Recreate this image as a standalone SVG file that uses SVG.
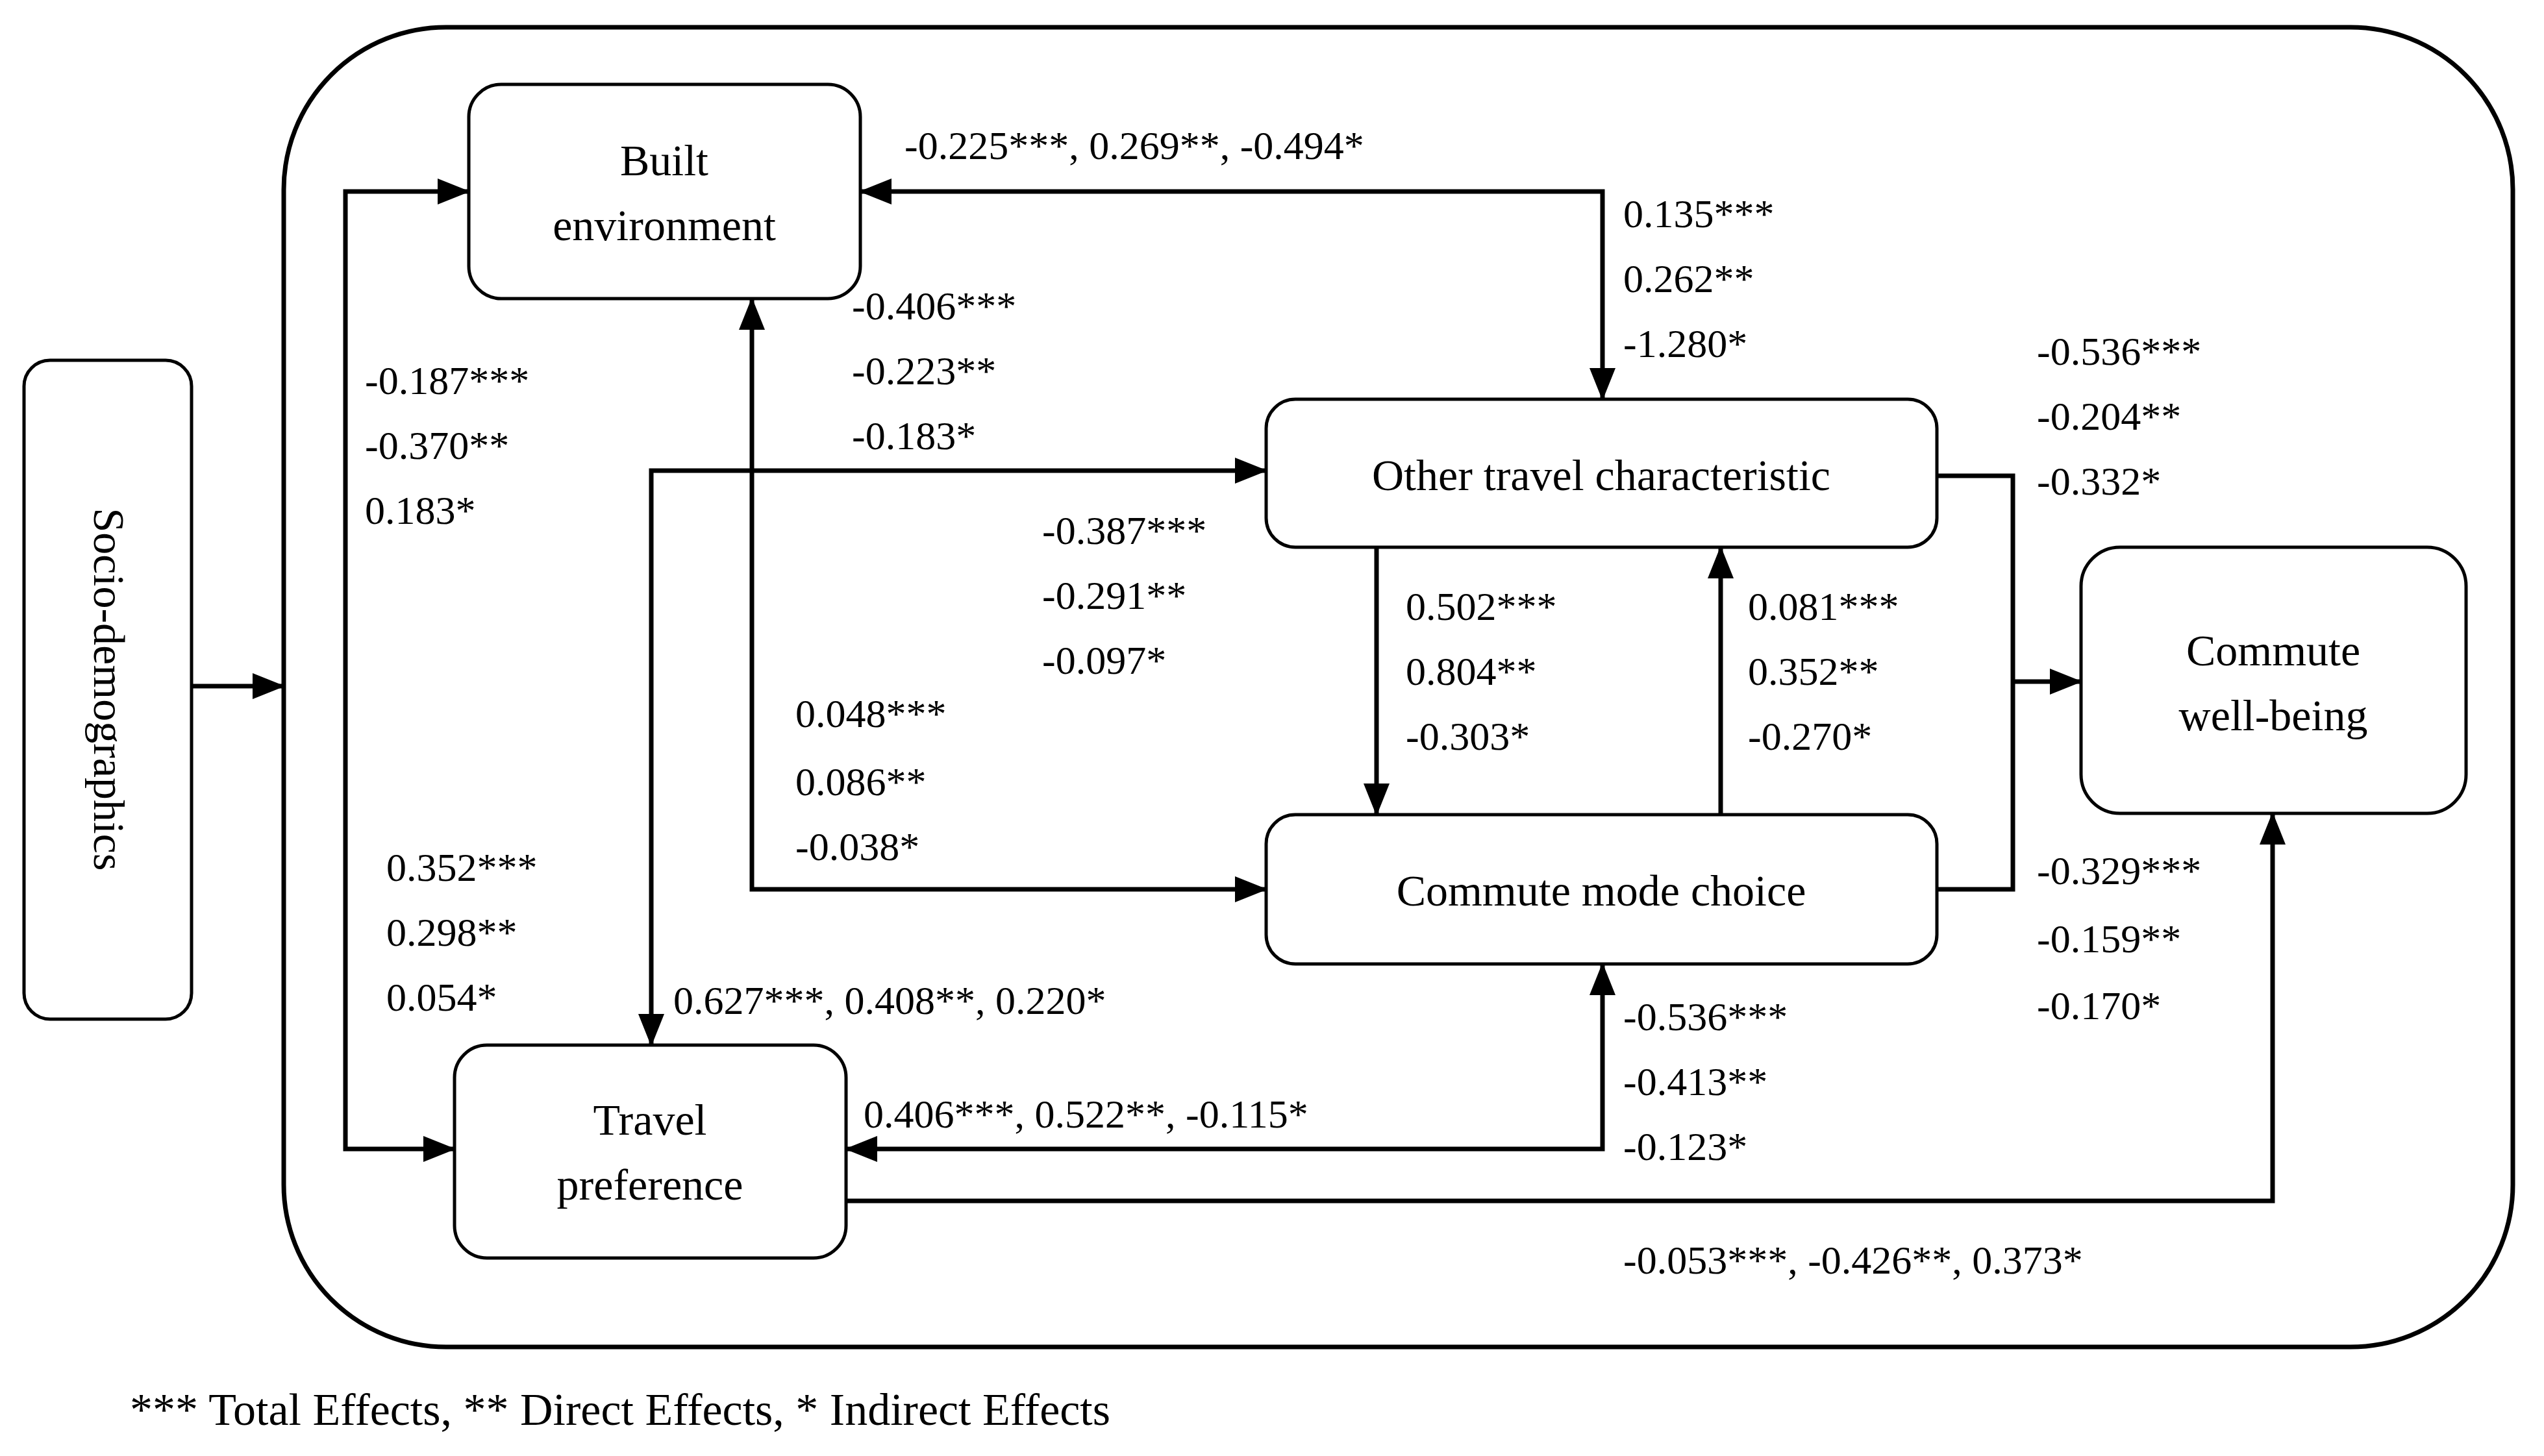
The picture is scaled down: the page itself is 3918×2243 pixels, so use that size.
<svg xmlns="http://www.w3.org/2000/svg" width="3918" height="2243" viewBox="0 0 3918 2243">
<style>
.box{fill:#fff;stroke:#000;stroke-width:5}
.n{font-family:"Liberation Serif",serif;font-size:68px;text-anchor:middle;fill:#000}
.l{font-family:"Liberation Serif",serif;font-size:62px;fill:#000}
.c{fill:none;stroke:#000;stroke-width:7}
</style>
<defs>
<marker id="a" markerUnits="userSpaceOnUse" markerWidth="50" markerHeight="40" refX="48" refY="20" orient="auto-start-reverse">
<path d="M0,0 L50,20 L0,40 Z" fill="#000"/>
</marker>
</defs>
<rect x="0" y="0" width="3918" height="2243" fill="#fff"/>
<rect x="437" y="42" width="3433" height="2033" rx="250" fill="none" stroke="#000" stroke-width="7"/>
<g id="socio"><rect class="box" x="37" y="555" width="258" height="1015" rx="40"/>
<text class="n" transform="translate(145,1062) rotate(90)">Socio-demographics</text></g>
<g id="built"><rect class="box" x="722" y="130" width="603" height="330" rx="50"/>
<text class="n" x="1023" y="270">Built</text><text class="n" x="1023" y="370">environment</text></g>
<g id="other"><rect class="box" x="1950" y="615" width="1033" height="228" rx="45"/>
<text class="n" x="2466" y="755">Other travel characteristic</text></g>
<g id="mode"><rect class="box" x="1950" y="1255" width="1033" height="230" rx="45"/>
<text class="n" x="2466" y="1395">Commute mode choice</text></g>
<g id="wellbeing"><rect class="box" x="3205" y="843" width="593" height="410" rx="60"/>
<text class="n" x="3501" y="1025">Commute</text><text class="n" x="3501" y="1125">well-being</text></g>
<g id="travelpref"><rect class="box" x="700" y="1610" width="603" height="328" rx="50"/>
<text class="n" x="1001" y="1748">Travel</text><text class="n" x="1001" y="1848">preference</text></g>
<g id="connectors">
<path class="c" d="M295,1057 H437" marker-end="url(#a)"/>
<path class="c" d="M722,295 H532 V1770 H700" marker-start="url(#a)" marker-end="url(#a)"/>
<path class="c" d="M1325,295 H2468 V615" marker-start="url(#a)" marker-end="url(#a)"/>
<path class="c" d="M1158,460 V1370 H1950" marker-start="url(#a)" marker-end="url(#a)"/>
<path class="c" d="M1003,1610 V725 H1950" marker-start="url(#a)" marker-end="url(#a)"/>
<path class="c" d="M2120,843 V1255" marker-end="url(#a)"/>
<path class="c" d="M2650,1255 V843" marker-end="url(#a)"/>
<path class="c" d="M2983,733 H3100 V1370 H2983"/>
<path class="c" d="M3100,1050 H3205" marker-end="url(#a)"/>
<path class="c" d="M1303,1770 H2468 V1485" marker-start="url(#a)" marker-end="url(#a)"/>
<path class="c" d="M1303,1850 H3500 V1253" marker-end="url(#a)"/>
</g>
<g id="labels">
<text class="l" x="1393" y="245">-0.225***, 0.269**, -0.494*</text>
<text class="l" x="2500" y="350">0.135***</text><text class="l" x="2500" y="450">0.262**</text><text class="l" x="2500" y="550">-1.280*</text>
<text class="l" x="1312" y="492">-0.406***</text><text class="l" x="1312" y="592">-0.223**</text><text class="l" x="1312" y="692">-0.183*</text>
<text class="l" x="1225" y="1120">0.048***</text><text class="l" x="1225" y="1225">0.086**</text><text class="l" x="1225" y="1325">-0.038*</text>
<text class="l" x="1037" y="1562">0.627***, 0.408**, 0.220*</text>
<text class="l" x="1605" y="838">-0.387***</text><text class="l" x="1605" y="938">-0.291**</text><text class="l" x="1605" y="1038">-0.097*</text>
<text class="l" x="2165" y="955">0.502***</text><text class="l" x="2165" y="1055">0.804**</text><text class="l" x="2165" y="1155">-0.303*</text>
<text class="l" x="2692" y="955">0.081***</text><text class="l" x="2692" y="1055">0.352**</text><text class="l" x="2692" y="1155">-0.270*</text>
<text class="l" x="3137" y="562">-0.536***</text><text class="l" x="3137" y="662">-0.204**</text><text class="l" x="3137" y="762">-0.332*</text>
<text class="l" x="3137" y="1362">-0.329***</text><text class="l" x="3137" y="1467">-0.159**</text><text class="l" x="3137" y="1570">-0.170*</text>
<text class="l" x="1330" y="1737">0.406***, 0.522**, -0.115*</text>
<text class="l" x="2500" y="1587">-0.536***</text><text class="l" x="2500" y="1687">-0.413**</text><text class="l" x="2500" y="1787">-0.123*</text>
<text class="l" x="2500" y="1962">-0.053***, -0.426**, 0.373*</text>
<text class="l" x="562" y="607">-0.187***</text><text class="l" x="562" y="707">-0.370**</text><text class="l" x="562" y="807">0.183*</text>
<text class="l" x="595" y="1357">0.352***</text><text class="l" x="595" y="1457">0.298**</text><text class="l" x="595" y="1557">0.054*</text>
<text class="l" x="200" y="2195" style="font-size:70px">*** Total Effects, ** Direct Effects, * Indirect Effects</text>
</g>
</svg>
